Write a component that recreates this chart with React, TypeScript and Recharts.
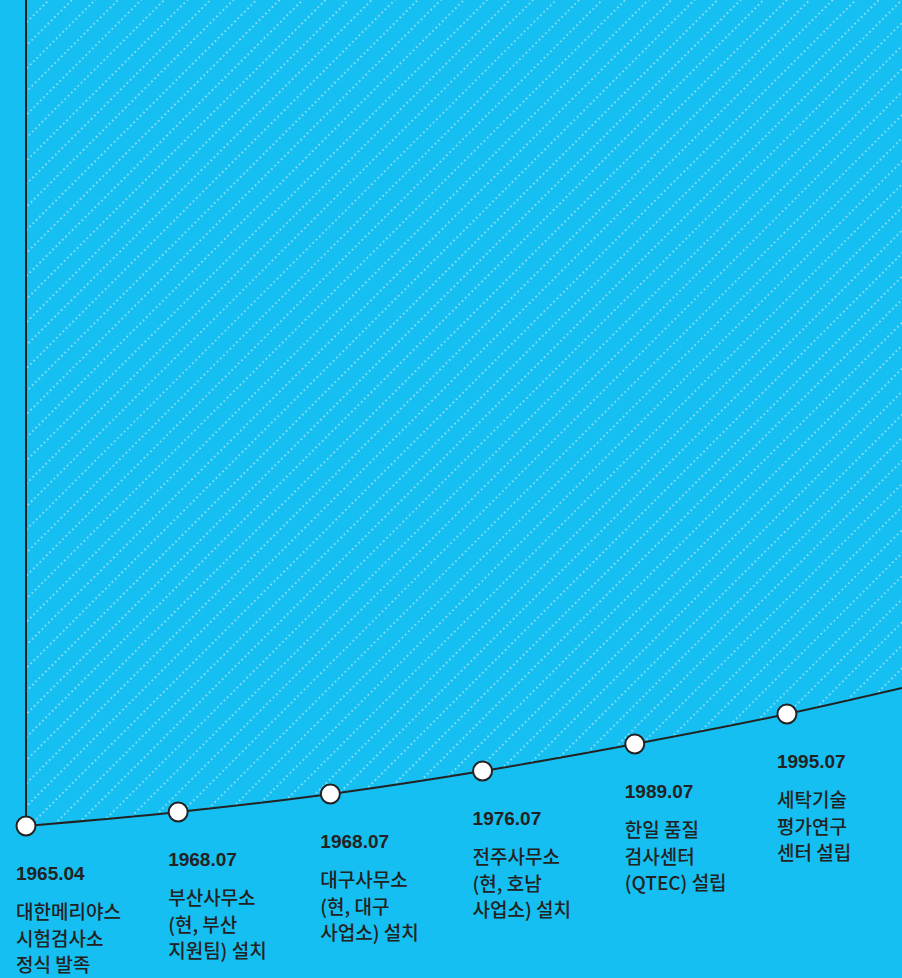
import React from "react";
import { ComposedChart, Area, Line, XAxis, YAxis, ReferenceLine, LabelList } from "recharts";

const W = 902;
const H = 978;

// milestone index positions along the timeline
const steps = [0, 1, 2, 3, 4, 5];
// curve heights (value units = px above bottom)
const heights = [152, 166, 184, 207, 234, 264];
// tail of the curve running off the right edge
const tailStep = 5.756;
const tailHeight = 290;

const dates = ["1965.04", "1968.07", "1968.07", "1976.07", "1989.07", "1995.07"];
const descriptions = [
  ["대한메리야스", "시험검사소", "정식 발족"],
  ["부산사무소", "(현, 부산", "지원팀) 설치"],
  ["대구사무소", "(현, 대구", "사업소) 설치"],
  ["전주사무소", "(현, 호남", "사업소) 설치"],
  ["한일 품질", "검사센터", "(QTEC) 설립"],
  ["세탁기술", "평가연구", "센터 설립"],
];

const data = [
  ...steps.map((s, i) => ({
    step: s,
    h: heights[i],
    range: [heights[i], H],
    date: dates[i],
    desc: descriptions[i],
    milestone: true,
  })),
  { step: tailStep, h: tailHeight, range: [tailHeight, H], date: "", desc: [], milestone: false },
];

const BG = "#15BFF1";
const INK = "#222222";
const FONT = "'Liberation Sans', 'Noto Sans CJK KR', Arial, sans-serif";
const KFONT = "'Noto Sans CJK KR', 'Liberation Sans', sans-serif";

const Dot = (props: any) => {
  const { cx, cy, payload } = props;
  if (!payload || !payload.milestone) return null;
  return <circle cx={cx} cy={cy} r={9.5} fill="#ffffff" stroke={INK} strokeWidth={2} />;
};

const MilestoneLabel = (props: any) => {
  const { x, y, index } = props;
  if (index == null || index >= dates.length) return null;
  const lx = x - 10;
  return (
    <g>
      <text x={lx} y={y + 54} fill={INK} fontFamily={FONT} fontWeight={700} fontSize={19}>
        {dates[index]}
      </text>
      {descriptions[index].map((line, j) => (
        <text
          key={j}
          x={lx}
          y={y + 93 + j * 26.5}
          fill={INK}
          fontFamily={KFONT}
          fontWeight={500}
          fontSize={19}
        >
          {line}
        </text>
      ))}
    </g>
  );
};

export default function App() {
  return (
    <div style={{ width: W, height: H, background: BG, position: "absolute", left: 0, top: 0, overflow: "hidden" }}>
      <style>{"body{margin:0;background:" + BG + ";}"}</style>
      <ComposedChart width={W} height={H} data={data} margin={{ top: 0, right: 0, bottom: 0, left: 0 }}>
        <defs>
          <pattern
            id="hatch"
            patternUnits="userSpaceOnUse"
            width={16.3}
            height={4.6}
            patternTransform="rotate(45)"
          >
            <line x1={2} y1={0} x2={2} y2={4.6} stroke="#ffffff" strokeWidth={1.2} strokeDasharray="1.5 3.1" strokeOpacity={0.8} />
          </pattern>
        </defs>
        <XAxis type="number" dataKey="step" domain={[-0.1708, tailStep]} hide allowDataOverflow />
        <YAxis type="number" domain={[0, H]} hide allowDataOverflow />
        <Area
          type="monotone"
          dataKey="range"
          stroke="none"
          fill="url(#hatch)"
          fillOpacity={1}
          isAnimationActive={false}
          dot={false}
          activeDot={false}
        />
        <ReferenceLine
          segment={[
            { x: 0, y: heights[0] },
            { x: 0, y: H },
          ]}
          stroke={INK}
          strokeWidth={2}
        />
        <Line
          type="monotone"
          dataKey="h"
          stroke={INK}
          strokeWidth={2}
          dot={<Dot />}
          activeDot={false}
          isAnimationActive={false}
        >
          <LabelList dataKey="date" content={<MilestoneLabel />} />
        </Line>
      </ComposedChart>
    </div>
  );
}
